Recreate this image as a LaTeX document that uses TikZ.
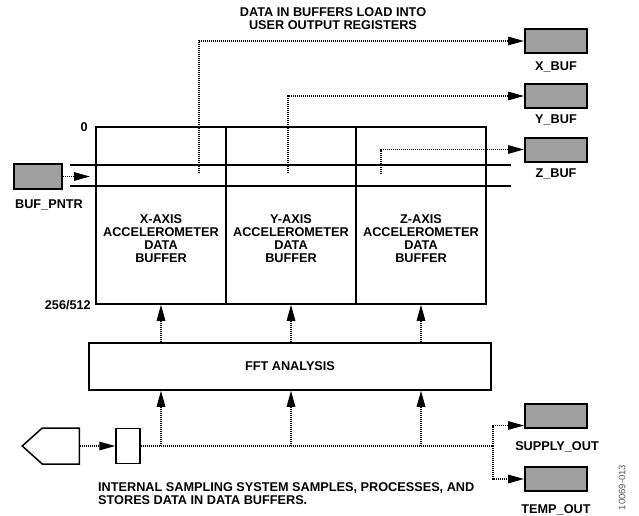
\documentclass[tikz,border=0pt]{standalone}
\usepackage{fontspec}
\setmainfont{Liberation Sans}
\usetikzlibrary{arrows.meta,positioning,shapes.symbols}

\begin{document}
\begin{tikzpicture}[x=1pt,y=-1pt,
    txt/.style={font=\fontsize{12.7}{13}\selectfont\bfseries,inner sep=0pt,align=center},
    regbox/.style={draw,line width=2pt,fill=gray!75,minimum width=62pt,minimum height=24pt,inner sep=0pt},
    blk/.style={draw,line width=1.5pt,inner sep=0pt},
    dotline/.style={line width=1.4pt,dash pattern=on 1.2pt off 0.8pt},
    dotarrow/.style={dotline,-{Triangle[length=16pt,width=8.5pt]}}]
  \useasboundingbox (0,0) rectangle (639,516);

  % output registers
  \node[regbox] (xbuf) at (556,41) {};
  \node[regbox] (ybuf) at (556,96) {};
  \node[regbox] (zbuf) at (556,149.5) {};
  \node[txt] (xbuflbl) at (556,67) {X\_BUF};
  \node[txt] (ybuflbl) at (556,120) {Y\_BUF};
  \node[txt] (zbuflbl) at (556,174) {Z\_BUF};
  \node[txt] (toptxt) at (333,19) {DATA IN BUFFERS LOAD INTO\\USER OUTPUT REGISTERS};

  % data buffers
  \node[blk,minimum width=130pt,minimum height=177pt] (xcol) at (161,215.5) {};
  \node[blk,minimum width=130pt,minimum height=177pt] (ycol) at (291,215.5) {};
  \node[blk,minimum width=130pt,minimum height=177pt] (zcol) at (421,215.5) {};
  \node[txt] (xtxt) at (161,238.5) {X-AXIS\\ACCELEROMETER\\DATA\\BUFFER};
  \node[txt] (ytxt) at (291,238.5) {Y-AXIS\\ACCELEROMETER\\DATA\\BUFFER};
  \node[txt] (ztxt) at (421,238.5) {Z-AXIS\\ACCELEROMETER\\DATA\\BUFFER};
  \node[txt,anchor=east] (toplbl) at (88,127) {0};
  \node[txt,anchor=east] (botlbl) at (91,305) {256/512};

  \coordinate (lineAl) at (70,165);  \coordinate (lineAr) at (511,165);
  \coordinate (lineBl) at (70,186);  \coordinate (lineBr) at (511,186);
  \draw[line width=1.5pt] (lineAl) -- (lineAr) (lineBl) -- (lineBr);

  \coordinate (xsrc) at (199,173);
  \coordinate (ysrc) at (288,173);
  \coordinate (zsrc) at (381,174);
  \draw[dotarrow] (xsrc) |- (xbuf.west);
  \draw[dotarrow] (ysrc) |- (ybuf.west);
  \draw[dotarrow] (zsrc) |- (zbuf.west);

  % buffer pointer
  \node[regbox,minimum width=48pt,minimum height=25pt] (bufp) at (38,176.5) {};
  \node[txt] (bufplbl) at (49,205) {BUF\_PNTR};
  \coordinate (ptrtip) at (90,176.5);
  \draw[dotarrow] (bufp.east) -- (ptrtip);

  % fft
  \node[blk,minimum width=402pt,minimum height=47pt] (fft) at (290,366.5) {};
  \node[txt] (ffttxt) at (290,366.5) {FFT ANALYSIS};
  \foreach \c in {xcol,ycol,zcol}
    \draw[dotarrow] (fft.north -| \c.south) -- (\c.south);

  % sampling
  \node[blk,signal,signal to=west,signal pointer angle=84,minimum width=57pt,minimum height=36pt,anchor=east] (sens) at (80,446) {};
  \node[blk,minimum width=24pt,minimum height=35pt] (samp) at (128,446) {};
  \draw[dotarrow] (sens.east) -- (samp.west);
  \coordinate (branch) at (493,446);
  \draw[dotline] (samp.east) -- (branch);
  \foreach \c in {xcol,ycol,zcol}
    \draw[dotarrow] (samp.east -| \c.south) -- (fft.south -| \c.south);

  \node[regbox] (supply) at (556,415.5) {};
  \node[regbox] (temp) at (556,479) {};
  \node[txt] (supplylbl) at (557,447) {SUPPLY\_OUT};
  \node[txt] (templbl) at (556,510) {TEMP\_OUT};
  \draw[dotarrow] (branch) |- ([yshift=3pt]supply.south west);
  \draw[dotarrow] (branch) |- (temp.west);

  \node[txt,anchor=west,align=left] (bottxt) at (98,493.5) {INTERNAL SAMPLING SYSTEM SAMPLES, PROCESSES, AND\\STORES DATA IN DATA BUFFERS.};
  \node[font=\fontsize{9.5}{10}\selectfont,text=black!65,rotate=90,inner sep=0pt] (figno) at (622,487.5) {10069-013};
\end{tikzpicture}
\end{document}
